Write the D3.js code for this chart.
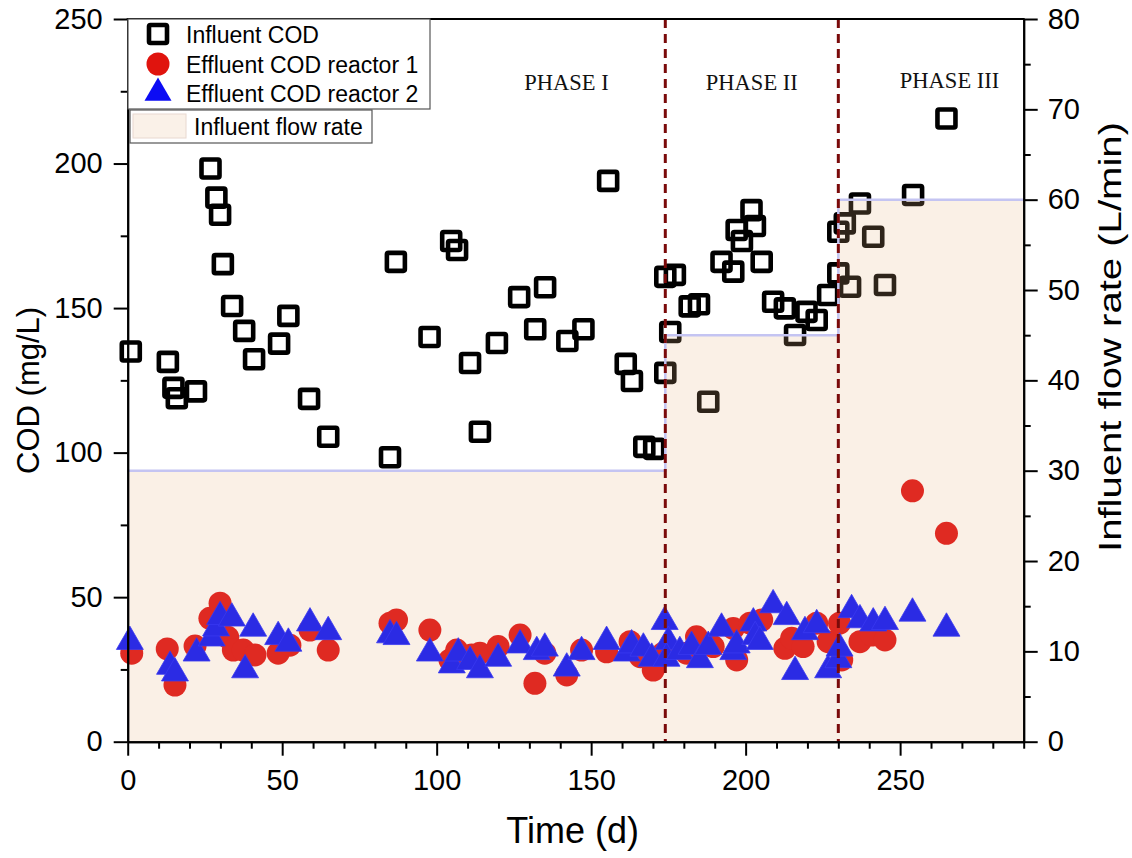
<!DOCTYPE html>
<html>
<head>
<meta charset="utf-8">
<script src="https://cdn.jsdelivr.net/npm/d3@7"></script>
<style>
  html, body { margin: 0; padding: 0; background: #fff; }
  svg { display: block; font-family: "Liberation Sans", Arial, Helvetica, sans-serif; }
  .serif { font-family: "Liberation Serif", "Times New Roman", serif; }
</style>
</head>
<body>
<svg id="chart" width="1132" height="858"></svg>
<script>
// Influent COD (mg/L) by day
const influentCOD = [
  [1,135],[13,131.4],[14.8,122.4],[15.9,118.8],[22.1,121.2],[26.8,198.3],[28.7,188.2],[29.9,182.3],
  [30.8,165.2],[33.8,150.7],[37.7,142.1],[40.9,132.3],[49,137.7],[52,147.3],[58.7,118.6],[64.9,105.5],
  [84.9,98.4],[86.8,166],[97.7,140],[104.7,173.2],[106.6,170.1],[110.8,131],[114,107.2],[119.5,137.9],
  [126.7,153.8],[131.9,142.7],[135.1,157.2],[142.3,138.6],[147.5,142.7],[155.5,194],[161.2,130.7],
  [163.2,124.8],[167.2,102],[170.4,101.3],[174,127.6],[175.6,141.7],[174,160.8],[177.1,161.5],
  [181.9,150.6],[184.9,151.3],[187.9,117.6],[192.2,166],[196,162.6],[197.1,177],[198.8,173.2],
  [201.9,183.9],[203,178.4],[205.2,166],[208.9,152.2],[212.7,149.9],[216,140.7],[219.7,148.7],
  [223,145.9],[226.7,154.5],[230,162],[230,176.4],[232.1,179.3],[233.8,157.4],[237,186.2],
  [241.3,174.7],[245.1,158],[254.2,189.1],[265,215.6]
];

// Effluent COD (mg/L), reactor 1
const effluentR1 = [
  [1.3,30.6],[12.8,32.1],[15.3,19.6],[21.8,33.1],[26.6,42.7],[29.9,47.9],[32.4,36.1],[34.2,31.7],
  [37.4,31.7],[41.2,30],[48.7,30.6],[52.5,33.4],[59,38.6],[64.9,31.7],[84.9,41],[87,42.1],
  [97.8,38.6],[104.3,28.3],[106.5,31.7],[111.3,30],[114,30.6],[119.9,32.9],[127,36.9],[131.8,20.2],
  [135,30.6],[142.1,23.1],[146.9,31.7],[155,31.1],[162.6,34.6],[165.9,29.4],[170.1,24.8],[173.3,30.6],
  [180.9,30.6],[184.1,36.3],[189.5,32.9],[196,39.2],[197.1,28.3],[201.4,41],[205.2,42.1],[212.7,32.3],
  [214.9,35.8],[218.6,32.9],[223,41],[226.7,34.6],[230.4,41],[231.1,28.3],[237,34.6],[240.8,36.9],
  [245.1,35.2],[254,86.8],[265,72.1]
];

// Effluent COD (mg/L), reactor 2
const effluentR2 = [
  [0.7,34.6],[13.7,26],[15.3,23.7],[22.3,30.6],[27.2,35.8],[28.6,39.3],[29.9,43.2],[33.7,42.7],
  [38,24.8],[40.6,39.2],[48.7,36.3],[52,34],[59,41],[64.9,38],[84.9,36.9],[87,36.3],
  [97.8,30.6],[104.9,26.5],[107,30.6],[110.8,27.7],[114,24.8],[119.9,28.8],[127,33.4],[132.4,31.1],
  [135,32.3],[142.1,25.4],[146.9,31.1],[155,34.6],[161.5,30.6],[163.1,33.4],[166.9,32.3],[169.6,28.8],
  [173.8,41.5],[175,34.6],[174.4,28.8],[178.7,31.1],[182.5,32.9],[185.2,28.3],[187.9,32.9],[192.2,39.2],
  [196,31.1],[197.1,33.4],[202.5,41],[203.1,36.3],[204.6,34.6],[208.9,47.3],[213.3,43.2],[216,24.2],
  [219.2,38],[223,40.4],[226.7,24.8],[230,28.3],[230.4,32.3],[234.3,45.6],[237,42.1],[241.3,41],
  [245.1,41.5],[254,44.4],[265,39.2]
];

// Influent flow rate (L/min), stepped by phase
const flowDays = [0, 174, 230, 290];
const flowRates = [30, 45, 60, 60];

// Phase boundaries and labels
const phaseBounds = [174, 230];
const phaseLabels = ["PHASE I", "PHASE II", "PHASE III"];
const phaseLabelDays = [142, 202, 266];

// Tick values
const xMajor = [0, 50, 100, 150, 200, 250];
const xMinor = d3.range(10, 300, 10).filter(v => v % 50 !== 0);
const yMajor = [0, 50, 100, 150, 200, 250];
const yMinor = [25, 75, 125, 175, 225];
const y2Major = [0, 10, 20, 30, 40, 50, 60, 70, 80];
const y2Minor = [5, 15, 25, 35, 45, 55, 65, 75];

const svg = d3.select("#chart");
const L = 127.7, R = 1023.7, T = 19, B = 741.7;

const x = d3.scaleLinear().domain([0, 290]).range([L, R]);
const y = d3.scaleLinear().domain([0, 250]).range([B, T]);
const y2 = d3.scaleLinear().domain([0, 80]).range([B, T]);

const tickFont = 29;

// Influent COD squares (drawn beneath the flow-rate shading)
const sq = 18;
svg.append("g").selectAll("rect").data(influentCOD).join("rect")
  .attr("x", d => x(d[0]) - sq / 2)
  .attr("y", d => y(d[1]) - sq / 2)
  .attr("width", sq).attr("height", sq).attr("rx", 1.5)
  .attr("fill", "none").attr("stroke", "#000").attr("stroke-width", 4.6);

// Flow-rate shading
const flowPts = flowDays.map((d, i) => [d, flowRates[i]]);
const area = d3.area().x(d => x(d[0])).y0(y2(0)).y1(d => y2(d[1])).curve(d3.curveStepAfter);
svg.append("path").datum(flowPts)
  .attr("d", area)
  .attr("fill", "rgb(230,180,130)").attr("fill-opacity", 0.2);
const line = d3.line().x(d => x(d[0])).y(d => y2(d[1])).curve(d3.curveStepAfter);
svg.append("path").datum(flowPts)
  .attr("d", line)
  .attr("fill", "none").attr("stroke", "#c4c4f2").attr("stroke-width", 2.5);

// Effluent reactor 1 circles
svg.append("g").selectAll("circle").data(effluentR1).join("circle")
  .attr("cx", d => x(d[0])).attr("cy", d => y(d[1])).attr("r", 11.5)
  .attr("fill", "#df2a22");

// Effluent reactor 2 triangles
const tri = d3.symbol().type(d3.symbolTriangle).size(315);
svg.append("g").selectAll("path").data(effluentR2).join("path")
  .attr("d", tri)
  .attr("transform", d => `translate(${x(d[0])},${y(d[1])})`)
  .attr("fill", "#2b2be4").attr("stroke", "#3a3af0").attr("stroke-width", 0.8);

// Phase boundaries
svg.append("g").selectAll("line").data(phaseBounds).join("line")
  .attr("x1", d => x(d)).attr("x2", d => x(d))
  .attr("y1", T).attr("y2", B)
  .attr("stroke", "#7a0a0a").attr("stroke-width", 3)
  .attr("stroke-dasharray", "9,6");

// Phase labels
svg.append("g").selectAll("text").data(phaseLabels).join("text")
  .attr("class", "serif")
  .attr("x", (d, i) => x(phaseLabelDays[i]))
  .attr("y", (d, i) => i === 2 ? 88 : 90)
  .attr("text-anchor", "middle")
  .attr("font-size", 22.5)
  .attr("fill", "#111")
  .text(d => d);

// Axes
function styleAxis(g) {
  g.select(".domain").attr("stroke", "#000").attr("stroke-width", 2);
  g.selectAll(".tick line").attr("stroke", "#000").attr("stroke-width", 2);
  g.selectAll(".tick text").attr("font-size", tickFont).attr("fill", "#000")
    .attr("font-family", "'Liberation Sans', Arial, sans-serif");
}

svg.append("g").attr("transform", `translate(0,${B})`)
  .call(d3.axisBottom(x).tickValues(xMinor).tickSize(7).tickFormat("").tickSizeOuter(0))
  .call(styleAxis);
svg.append("g").attr("transform", `translate(0,${B})`)
  .call(d3.axisBottom(x).tickValues(xMajor).tickSize(14).tickPadding(14).tickSizeOuter(0))
  .call(styleAxis);

svg.append("g").attr("transform", `translate(${L},0)`)
  .call(d3.axisLeft(y).tickValues(yMinor).tickSize(7).tickFormat("").tickSizeOuter(0))
  .call(styleAxis);
svg.append("g").attr("transform", `translate(${L},0)`)
  .call(d3.axisLeft(y).tickValues(yMajor).tickSize(14).tickPadding(11).tickSizeOuter(0))
  .call(styleAxis);

svg.append("g").attr("transform", `translate(${R},0)`)
  .call(d3.axisRight(y2).tickValues(y2Minor).tickSize(7).tickFormat("").tickSizeOuter(0))
  .call(styleAxis);
svg.append("g").attr("transform", `translate(${R},0)`)
  .call(d3.axisRight(y2).tickValues(y2Major).tickSize(14).tickPadding(10).tickSizeOuter(0))
  .call(styleAxis);

// Top frame line
svg.append("line").attr("x1", L - 1).attr("x2", R + 1).attr("y1", T).attr("y2", T)
  .attr("stroke", "#000").attr("stroke-width", 2);

// Axis titles
svg.append("text")
  .attr("x", x(144)).attr("y", 843)
  .attr("text-anchor", "middle").attr("font-size", 36).attr("fill", "#000")
  .text("Time (d)");
svg.append("text")
  .attr("transform", `translate(39,${(T + B) / 2 + 10}) rotate(-90)`)
  .attr("text-anchor", "middle").attr("font-size", 31).attr("fill", "#000")
  .text("COD (mg/L)");
svg.append("text")
  .attr("transform", `translate(1121,337) rotate(-90)`)
  .attr("text-anchor", "middle").attr("font-size", 32).attr("fill", "#000")
  .attr("textLength", 430).attr("lengthAdjust", "spacingAndGlyphs")
  .text("Influent flow rate (L/min)");

// Legend
const lg = svg.append("g");
lg.append("rect").attr("x", 128).attr("y", 19).attr("width", 302).attr("height", 90)
  .attr("fill", "#fff").attr("stroke", "#555").attr("stroke-width", 1.2);
lg.append("rect").attr("x", 130).attr("y", 110).attr("width", 242).attr("height", 33)
  .attr("fill", "#fff").attr("stroke", "#555").attr("stroke-width", 1.2);

const legendNames = ["Influent COD", "Effluent COD reactor 1", "Effluent COD reactor 2", "Influent flow rate"];
const legendY = [34, 64, 93, 126];

lg.append("rect").attr("x", 158 - sq / 2).attr("y", legendY[0] - sq / 2)
  .attr("width", sq).attr("height", sq).attr("rx", 1.5)
  .attr("fill", "none").attr("stroke", "#000").attr("stroke-width", 4.6);
lg.append("circle").attr("cx", 158).attr("cy", legendY[1]).attr("r", 11.5).attr("fill", "#e0140e");
lg.append("path").attr("d", tri).attr("transform", `translate(158,${legendY[2]})`)
  .attr("fill", "#0c0cf4");
lg.append("rect").attr("x", 133).attr("y", 114).attr("width", 53).attr("height", 24)
  .attr("fill", "#faf1e8").attr("stroke", "#e8d8d0").attr("stroke-width", 1);

lg.selectAll("text.lt").data(legendNames).join("text")
  .attr("class", "lt")
  .attr("x", (d, i) => i === 3 ? 194 : 186)
  .attr("y", (d, i) => legendY[i] + 8.5)
  .attr("font-size", 23).attr("fill", "#000")
  .text(d => d);
</script>
</body>
</html>
